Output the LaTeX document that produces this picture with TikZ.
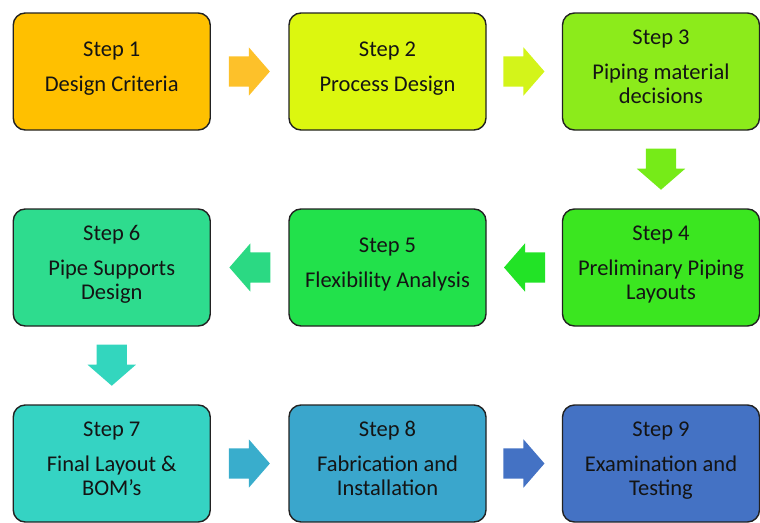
\documentclass[tikz,border=0pt]{standalone}
\usepackage{fontspec}
\setmainfont{Carlito}
\usetikzlibrary{shapes.arrows,calc}

% fill colours of the steps and of the block arrows
\definecolor{sA}{HTML}{FFC000}
\definecolor{sB}{HTML}{DCF70F}
\definecolor{sC}{HTML}{8CEB1B}
\definecolor{sD}{HTML}{3BE620}
\definecolor{sE}{HTML}{22E14B}
\definecolor{sF}{HTML}{2EDC8E}
\definecolor{sG}{HTML}{35D3C3}
\definecolor{sH}{HTML}{3AA6CC}
\definecolor{sI}{HTML}{4472C4}
\definecolor{aA}{HTML}{FDC12A}
\definecolor{aB}{HTML}{D3F41A}
\definecolor{aC}{HTML}{76EB18}
\definecolor{aD}{HTML}{22E326}
\definecolor{aE}{HTML}{2BD983}
\definecolor{aF}{HTML}{33D6BE}
\definecolor{aG}{HTML}{39ADCC}
\definecolor{aH}{HTML}{4472C4}
\definecolor{edge}{HTML}{222222}
\definecolor{ink}{HTML}{141414}

% stacked lines of a step, baseline on the last line
\newcommand\steplines[1]{\begin{tabular}[b]{@{}c@{}}#1\end{tabular}}

\tikzset{
  stepbox/.style={draw=edge, line width=1.4pt, rounded corners=12pt,
    minimum width=197pt, minimum height=117pt, inner sep=0pt,
    text=ink, text depth=11.7pt, font=\fontsize{22.5}{24.5}\selectfont},
  blockarrow/.style={single arrow, draw=none, inner xsep=0pt, inner ysep=15pt,
    minimum height=41pt, single arrow head extend=9pt,
    single arrow tip angle=98, anchor=tip},
}

\begin{document}
\begin{tikzpicture}[x=1pt, y=-1pt]
\useasboundingbox (0,0) rectangle (760,522);

% step boxes, three rows of three
\node[stepbox, fill=sA] (s1) at (111.75,71.5) {\steplines{Step 1\\[10pt]Design Criteria}};
\node[stepbox, fill=sB] (s2) at (387.5,71.5) {\steplines{Step 2\\[10pt]Process Design}};
\node[stepbox, fill=sC] (s3) at (661,71.5) {\steplines{Step 3\\[10pt]Piping material\\decisions}};
\node[stepbox, fill=sD] (s4) at (661,267.5) {\steplines{Step 4\\[10pt]Preliminary Piping\\Layouts}};
\node[stepbox, fill=sE] (s5) at (387.5,267.5) {\steplines{Step 5\\[10pt]Flexibility Analysis}};
\node[stepbox, fill=sF] (s6) at (111.75,267.5) {\steplines{Step 6\\[10pt]Pipe Supports\\Design}};
\node[stepbox, fill=sG] (s7) at (111.75,463.5) {\steplines{Step 7\\[10pt]Final Layout \&\\BOM’s}};
\node[stepbox, fill=sH] (s8) at (387.5,463.5) {\steplines{Step 8\\[10pt]Fabrication and\\Installation}};
\node[stepbox, fill=sI] (s9) at (661,463.5) {\steplines{Step 9\\[10pt]Examination and\\Testing}};

% midpoints of the gaps between consecutive steps
\coordinate (m12) at ($(s1.east)!0.5!(s2.west)$);
\coordinate (m23) at ($(s2.east)!0.5!(s3.west)$);
\coordinate (m34) at ($(s3.south)!0.5!(s4.north)$);
\coordinate (m45) at ($(s4.west)!0.5!(s5.east)$);
\coordinate (m56) at ($(s5.west)!0.5!(s6.east)$);
\coordinate (m67) at ($(s6.south)!0.5!(s7.north)$);
\coordinate (m78) at ($(s7.east)!0.5!(s8.west)$);
\coordinate (m89) at ($(s8.east)!0.5!(s9.west)$);

% block arrows centred in the gaps, tip toward the next step
\node[blockarrow, fill=aA] (a12) at ($(m12)!20.5pt!(s2.west)$) {};
\node[blockarrow, fill=aB] (a23) at ($(m23)!20.5pt!(s3.west)$) {};
\node[blockarrow, fill=aC, rotate=-90] (a34) at ($(m34)!20.5pt!(s4.north)$) {};
\node[blockarrow, fill=aD, rotate=180] (a45) at ($(m45)!20.5pt!(s5.east)$) {};
\node[blockarrow, fill=aE, rotate=180] (a56) at ($(m56)!20.5pt!(s6.east)$) {};
\node[blockarrow, fill=aF, rotate=-90] (a67) at ($(m67)!20.5pt!(s7.north)$) {};
\node[blockarrow, fill=aG] (a78) at ($(m78)!20.5pt!(s8.west)$) {};
\node[blockarrow, fill=aH] (a89) at ($(m89)!20.5pt!(s9.west)$) {};
\end{tikzpicture}
\end{document}
